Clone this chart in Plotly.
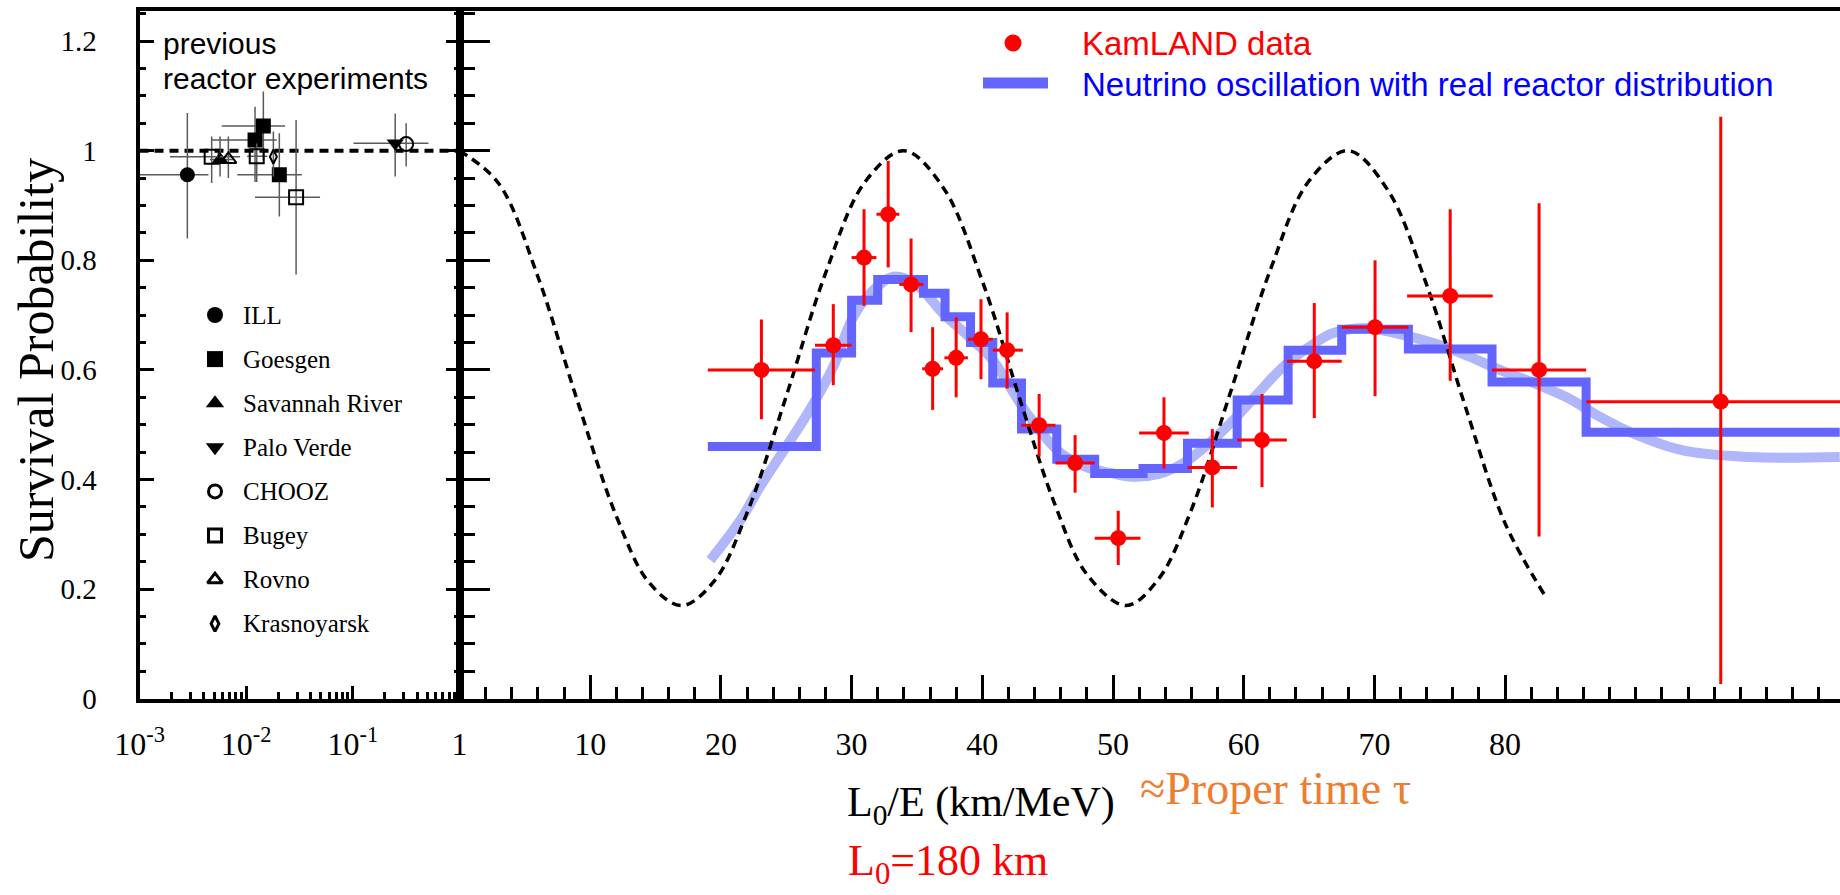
import plotly.graph_objects as go

W, H = 1840, 895

# ---------------- KamLAND: observed / expected (no oscillation) vs L0/E ----------------
kl_le = [23.1, 28.6, 30.95, 32.8, 34.55, 36.2, 38.0, 39.9, 41.9, 44.35,
         47.1, 50.4, 53.9, 57.6, 61.4, 65.4, 70.05, 75.8, 82.6, 96.5]
kl_ratio = [0.600, 0.645, 0.805, 0.884, 0.756, 0.602, 0.622, 0.656, 0.636, 0.499,
            0.430, 0.293, 0.485, 0.422, 0.472, 0.616, 0.678, 0.735, 0.600, 0.542]
kl_ratio_hi = [0.692, 0.720, 0.893, 0.981, 0.840, 0.678, 0.696, 0.729, 0.705, 0.556,
               0.481, 0.343, 0.550, 0.492, 0.556, 0.722, 0.800, 0.893, 0.904, 1.062]
kl_ratio_lo = [0.510, 0.572, 0.717, 0.787, 0.669, 0.527, 0.550, 0.583, 0.566, 0.442,
               0.376, 0.244, 0.420, 0.349, 0.386, 0.512, 0.552, 0.580, 0.296, 0.027]
kl_le_lo = [19.0, 27.2, 30.0, 31.9, 33.65, 35.4, 37.1, 38.9, 40.8, 43.0,
            45.6, 48.6, 52.0, 55.7, 59.5, 63.3, 67.5, 72.5, 79.0, 86.2]
kl_le_hi = [27.2, 30.0, 31.9, 33.65, 35.5, 37.0, 38.9, 40.8, 43.1, 45.6,
            48.6, 52.1, 55.8, 59.5, 63.3, 67.5, 72.6, 79.05, 86.2, 110.0]

# best-fit oscillation with the real reactor distribution, binned like the data
fit_edges = [19.0, 27.3, 30.0, 32.0, 35.5, 37.15, 39.1, 40.8, 43.0, 45.7,
             48.6, 52.3, 55.7, 59.5, 63.4, 67.5, 72.6, 79.0, 86.2, 105.6]
fit_vals = [0.460, 0.631, 0.727, 0.765, 0.740, 0.697, 0.650, 0.576, 0.492, 0.437,
            0.411, 0.420, 0.466, 0.545, 0.636, 0.674, 0.638, 0.578, 0.486]

# same expectation, unbinned
smooth_le = [19.2, 21.5, 23.0, 25.5, 26.8, 28.6, 30.0, 31.2, 33.2, 35.0, 37.0, 39.0,
             40.8, 43.4, 46.0, 48.0, 49.8, 51.5, 53.5, 55.4, 57.3, 59.2, 61.0, 63.0,
             64.9, 66.8, 69.4, 72.0, 74.5, 77.0, 79.6, 82.0, 84.7, 87.3, 89.8, 93.6,
             98.7, 105.6]
smooth_p = [0.253, 0.326, 0.387, 0.478, 0.527, 0.606, 0.691, 0.734, 0.770, 0.755, 0.703, 0.660,
            0.618, 0.521, 0.448, 0.422, 0.412, 0.405, 0.410, 0.430, 0.465, 0.508, 0.555, 0.605,
            0.640, 0.667, 0.676, 0.665, 0.649, 0.627, 0.600, 0.578, 0.550, 0.514, 0.484, 0.453,
            0.441, 0.441]

# oscillation for a single baseline L0
osc_le = [0, 3, 6, 9, 12, 14.5, 17, 19.5, 22, 25, 28, 31, 34, 37, 40, 43, 45.5, 48,
          51, 53.5, 56, 59, 62, 65, 68, 71, 74, 77, 80, 83]
osc_p = [1.00, 0.94, 0.77, 0.545, 0.333, 0.212, 0.17, 0.215, 0.339, 0.552, 0.776, 0.942,
         1.00, 0.933, 0.762, 0.537, 0.358, 0.227, 0.17, 0.219, 0.345, 0.56, 0.78, 0.945,
         1.00, 0.929, 0.755, 0.53, 0.32, 0.19]

# ---------------- previous reactor experiments ----------------
prev_exp = ["ILL", "Bugey", "Bugey", "Bugey", "Goesgen", "Goesgen", "Goesgen",
            "Savannah River", "Rovno", "Krasnoyarsk", "Palo Verde", "CHOOZ"]
prev_x = [0.00281, 0.00475, 0.01256, 0.02938, 0.01211, 0.01449, 0.02046,
          0.00569, 0.00681, 0.01799, 0.2495, 0.3162]
prev_y = [0.956, 0.989, 0.990, 0.915, 1.0195, 1.045, 0.956,
          0.984, 0.984, 0.989, 1.0135, 1.012]
prev_x_lo = [0.00098, 0.00193, 0.0102, 0.0121, 0.00475, 0.0059, 0.00826,
             0.00458, 0.00681, 0.01799, 0.1014, 0.3162]
prev_x_hi = [0.00443, 0.00877, 0.0158, 0.0493, 0.01936, 0.02317, 0.03327,
             0.00753, 0.00681, 0.01799, 0.5117, 0.3162]
prev_y_lo = [0.840, 0.941, 0.943, 0.774, 0.943, 0.983, 0.880,
             0.953, 0.950, 0.953, 0.953, 0.971]
prev_y_hi = [1.069, 1.026, 1.013, 1.056, 1.080, 1.108, 1.032,
             1.026, 1.026, 1.035, 1.068, 1.050]

exp_order = ["ILL", "Goesgen", "Savannah River", "Palo Verde", "CHOOZ", "Bugey", "Rovno", "Krasnoyarsk"]
exp_symbol = {"ILL": "circle", "Goesgen": "square", "Savannah River": "triangle-up",
              "Palo Verde": "triangle-down", "CHOOZ": "circle-open", "Bugey": "square-open",
              "Rovno": "triangle-up-open", "Krasnoyarsk": "diamond-tall-open"}

no_osc_x = [0.001, 1.0]
no_osc_y = [1.0, 1.0]

# ---------------- layout geometry (pixels) ----------------
X_LEFT, X_SPLIT = 139.5, 459.5
Y_TOP, Y_ZERO = 11.0, 698.7
P_PER_PX = 1.0 / 548.0

def fx(px):
    return px / W

def fy(py):
    return 1 - py / H

y_range = [0, (Y_ZERO - Y_TOP) * P_PER_PX]
le_range = [0, (W - X_SPLIT) / 13.07]

SERIF = "Liberation Serif, Times New Roman, serif"
SANS = "Liberation Sans, Arial, sans-serif"
RED = "#ff0000"
BLUE_STEP = "#6464ff"
BLUE_SOFT = "#b0b6fa"

fig = go.Figure()

# ---- left panel ----
fig.add_trace(go.Scatter(x=no_osc_x, y=no_osc_y, mode="lines", xaxis="x", yaxis="y",
                         line=dict(color="black", width=4, dash="9px,6px"),
                         showlegend=False, hoverinfo="skip"))
for name in exp_order:
    idx = [i for i, e in enumerate(prev_exp) if e == name]
    xs = [prev_x[i] for i in idx]
    ys = [prev_y[i] for i in idx]
    filled = not exp_symbol[name].endswith("open")
    fig.add_trace(go.Scatter(
        x=xs, y=ys, mode="markers", xaxis="x", yaxis="y", name=name,
        marker=dict(symbol=exp_symbol[name], color="black",
                    size=15 if filled else (10 if "diamond" in exp_symbol[name] else 14),
                    line=dict(color="black", width=0 if filled else 2)),
        error_x=dict(type="data", symmetric=False,
                     array=[prev_x_hi[i] - prev_x[i] for i in idx],
                     arrayminus=[prev_x[i] - prev_x_lo[i] for i in idx],
                     color="#5a5a5a", thickness=1.5, width=0),
        error_y=dict(type="data", symmetric=False,
                     array=[prev_y_hi[i] - prev_y[i] for i in idx],
                     arrayminus=[prev_y[i] - prev_y_lo[i] for i in idx],
                     color="#5a5a5a", thickness=1.5, width=0),
        showlegend=False))

# ---- right panel ----
fig.add_trace(go.Scatter(x=smooth_le, y=smooth_p, mode="lines", xaxis="x2", yaxis="y2",
                         line=dict(color=BLUE_SOFT, width=10, shape="spline"),
                         showlegend=False, hoverinfo="skip"))
fig.add_trace(go.Scatter(x=fit_edges, y=fit_vals + [fit_vals[-1]], mode="lines",
                         xaxis="x2", yaxis="y2",
                         line=dict(color=BLUE_STEP, width=9, shape="hv"),
                         showlegend=False, hoverinfo="skip"))
fig.add_trace(go.Scatter(x=osc_le, y=osc_p, mode="lines", xaxis="x2", yaxis="y2",
                         line=dict(color="black", width=3.5, dash="9px,6px", shape="spline"),
                         showlegend=False, hoverinfo="skip"))
fig.add_trace(go.Scatter(
    x=kl_le, y=kl_ratio, mode="markers", xaxis="x2", yaxis="y2",
    marker=dict(color=RED, size=16, symbol="circle"),
    error_x=dict(type="data", symmetric=False,
                 array=[h - v for h, v in zip(kl_le_hi, kl_le)],
                 arrayminus=[v - l for l, v in zip(kl_le_lo, kl_le)],
                 color=RED, thickness=3, width=0),
    error_y=dict(type="data", symmetric=False,
                 array=[h - v for h, v in zip(kl_ratio_hi, kl_ratio)],
                 arrayminus=[v - l for l, v in zip(kl_ratio_lo, kl_ratio)],
                 color=RED, thickness=3, width=0),
    showlegend=False))

# ---- keys (drawn in a full-figure pixel frame) ----
key_rows = [315 + 44.1 * i for i in range(len(exp_order))]
for name, ry in zip(exp_order, key_rows):
    filled = not exp_symbol[name].endswith("open")
    fig.add_trace(go.Scatter(
        x=[215], y=[ry], mode="markers", xaxis="x3", yaxis="y3",
        marker=dict(symbol=exp_symbol[name], color="black",
                    size=16 if filled else (11 if "diamond" in exp_symbol[name] else 13),
                    line=dict(color="black", width=0 if filled else 3)),
        showlegend=False, hoverinfo="skip"))
fig.add_trace(go.Scatter(x=[1013], y=[43], mode="markers", xaxis="x3", yaxis="y3",
                         marker=dict(color=RED, size=17), showlegend=False, hoverinfo="skip"))
fig.add_trace(go.Scatter(x=[983, 1048], y=[83, 83], mode="lines", xaxis="x3", yaxis="y3",
                         line=dict(color=BLUE_STEP, width=11), showlegend=False, hoverinfo="skip"))

annotations = []
for name, ry in zip(exp_order, key_rows):
    annotations.append(dict(x=241, y=ry, xref="x3", yref="y3", text=name, showarrow=False,
                            xanchor="left", yanchor="middle",
                            font=dict(family=SERIF, size=25, color="black")))
annotations += [
    dict(x=161, y=43, xref="x3", yref="y3", text="previous", showarrow=False,
         xanchor="left", yanchor="middle", font=dict(family=SANS, size=30, color="black")),
    dict(x=161, y=78, xref="x3", yref="y3", text="reactor experiments", showarrow=False,
         xanchor="left", yanchor="middle", font=dict(family=SANS, size=30, color="black")),
    dict(x=1080, y=43, xref="x3", yref="y3", text="KamLAND data", showarrow=False,
         xanchor="left", yanchor="middle", font=dict(family=SANS, size=33, color=RED)),
    dict(x=1080, y=84, xref="x3", yref="y3",
         text="Neutrino oscillation with real reactor distribution", showarrow=False,
         xanchor="left", yanchor="middle", font=dict(family=SANS, size=33, color="#0000ff")),
    dict(x=36, y=360, xref="x3", yref="y3", text="Survival Probability", showarrow=False,
         textangle=-90, xanchor="center", yanchor="middle",
         font=dict(family=SERIF, size=50, color="black")),
    dict(x=981, y=805, xref="x3", yref="y3", text="L<sub>0</sub>/E (km/MeV)", showarrow=False,
         xanchor="center", yanchor="middle", font=dict(family=SERIF, size=42, color="black")),
    dict(x=1138, y=788, xref="x3", yref="y3", text="≈Proper time τ", showarrow=False,
         xanchor="left", yanchor="middle", font=dict(family=SERIF, size=46, color="#ed7d31")),
    dict(x=846, y=863, xref="x3", yref="y3", text="L<sub>0</sub>=180 km", showarrow=False,
         xanchor="left", yanchor="middle", font=dict(family=SERIF, size=44, color=RED)),
]

log_minor = [k * 10.0 ** n for n in (-3, -2, -1) for k in range(2, 10)]

common_minor = dict(ticks="inside", tickwidth=3, tickcolor="black", showgrid=False)

fig.update_layout(
    width=W, height=H, autosize=False,
    margin=dict(l=0, r=0, t=0, b=0),
    paper_bgcolor="white", plot_bgcolor="rgba(0,0,0,0)",
    showlegend=False,
    annotations=annotations,
    xaxis=dict(
        type="log", range=[-3, 0], domain=[fx(X_LEFT), fx(X_SPLIT)], anchor="y",
        tickmode="array", tickvals=[0.001, 0.01, 0.1, 1],
        ticktext=["10<sup>-3</sup>", "10<sup>-2</sup>", "10<sup>-1</sup>", "1"],
        ticks="inside", ticklen=13, tickwidth=3, tickcolor="black",
        minor=dict(tickmode="array", tickvals=log_minor, ticks="inside", ticklen=7,
                   tickwidth=2.5, tickcolor="black", showgrid=False),
        showline=True, linewidth=4, linecolor="black", mirror=True,
        showgrid=False, zeroline=False, automargin=False,
        tickfont=dict(family=SERIF, size=32, color="black"), ticklabelstandoff=14,
    ),
    yaxis=dict(
        range=y_range, domain=[fy(Y_ZERO), fy(Y_TOP)], anchor="x",
        tickmode="array", tickvals=[0, 0.2, 0.4, 0.6, 0.8, 1.0, 1.2],
        ticktext=["0", "0.2", "0.4", "0.6", "0.8", "1", "1.2"],
        ticks="inside", ticklen=14, tickwidth=3, tickcolor="black",
        minor=dict(tickmode="linear", tick0=0, dtick=0.05, ticklen=6, **common_minor),
        showline=True, linewidth=4, linecolor="black", mirror="ticks",
        showgrid=False, zeroline=False, automargin=False,
        tickfont=dict(family=SERIF, size=29, color="black"), ticklabelstandoff=33,
    ),
    xaxis2=dict(
        range=le_range, domain=[fx(X_SPLIT), 1.0], anchor="y2",
        tickmode="array", tickvals=[10, 20, 30, 40, 50, 60, 70, 80],
        ticktext=["10", "20", "30", "40", "50", "60", "70", "80"],
        ticks="inside", ticklen=24, tickwidth=3, tickcolor="black",
        minor=dict(tickmode="linear", tick0=0, dtick=2, ticklen=12, **common_minor),
        showline=True, linewidth=4, linecolor="black", mirror=True,
        showgrid=False, zeroline=False, automargin=False,
        tickfont=dict(family=SERIF, size=32, color="black"), ticklabelstandoff=14,
    ),
    # unlabelled major ticks beyond 80
    xaxis4=dict(
        range=le_range, domain=[fx(X_SPLIT), 1.0], anchor="y2", overlaying="x2",
        tickmode="array", tickvals=[90, 100], showticklabels=False,
        ticks="inside", ticklen=24, tickwidth=3, tickcolor="black",
        showline=False, showgrid=False, zeroline=False, automargin=False,
    ),
    yaxis2=dict(
        range=y_range, domain=[fy(Y_ZERO), fy(Y_TOP)], anchor="x2", matches="y",
        tickmode="array", tickvals=[0, 0.2, 0.4, 0.6, 0.8, 1.0, 1.2],
        showticklabels=False,
        ticks="inside", ticklen=30, tickwidth=3, tickcolor="black",
        minor=dict(tickmode="linear", tick0=0, dtick=0.05, ticklen=15, **common_minor),
        showline=True, linewidth=4, linecolor="black", mirror=False,
        showgrid=False, zeroline=False, automargin=False,
    ),
    xaxis3=dict(range=[0, W], domain=[0, 1], anchor="y3", visible=False, fixedrange=True),
    yaxis3=dict(range=[H, 0], domain=[0, 1], anchor="x3", visible=False, fixedrange=True),
)

fig.write_html("out.html")
